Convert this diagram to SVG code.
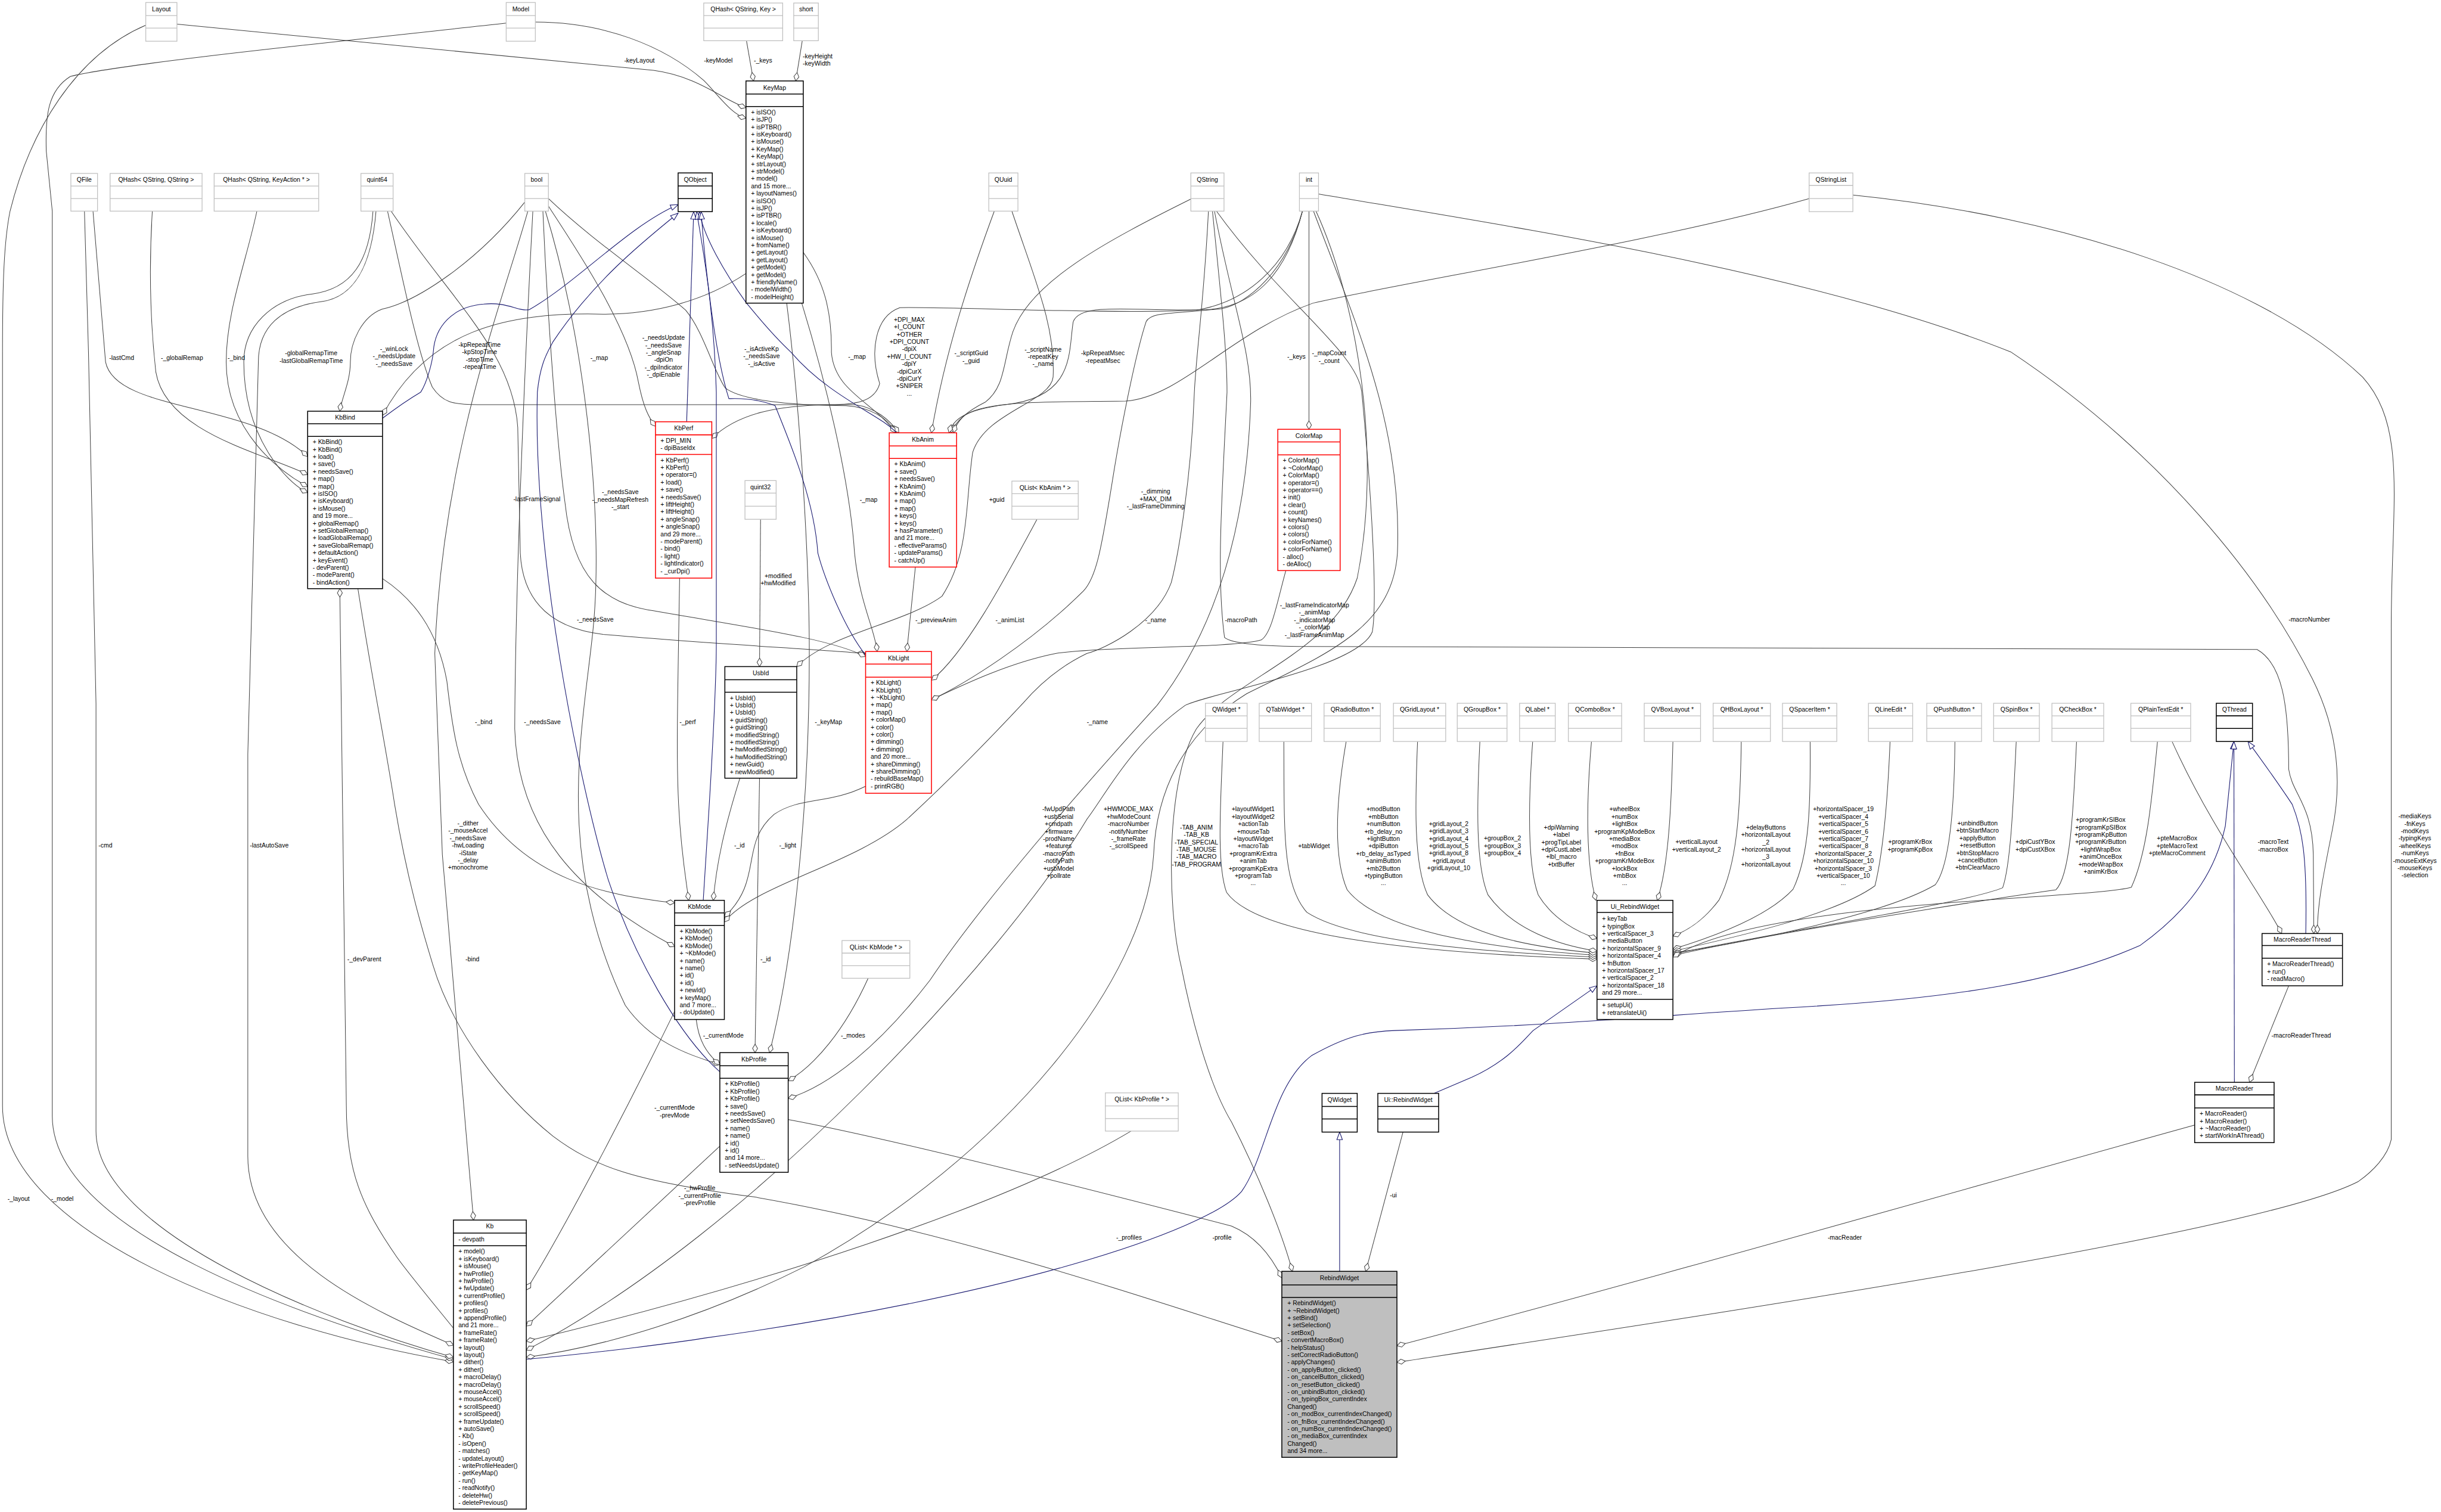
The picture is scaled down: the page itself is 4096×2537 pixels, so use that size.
<svg xmlns="http://www.w3.org/2000/svg" width="4096" height="2537" viewBox="0 0 4096 2537">
<defs>
<style>
text{font-family:"Liberation Sans",Arial,sans-serif;font-size:12.4px;fill:#000}
.m{text-anchor:middle}
.g rect{fill:#fff;stroke:#bfbfbf;stroke-width:1.5}
.g path{fill:none;stroke:#bfbfbf;stroke-width:1.5}
.k rect{fill:#fff;stroke:#000;stroke-width:1.8}
.k path{fill:none;stroke:#000;stroke-width:1.8}
.r rect{fill:#fff;stroke:#ff0000;stroke-width:1.8}
.r path{fill:none;stroke:#ff0000;stroke-width:1.8}
.f rect{fill:#bfbfbf;stroke:#000;stroke-width:1.8}
.f path{fill:none;stroke:#000;stroke-width:1.8}
.e{fill:none;stroke:#404040;stroke-width:1.2;marker-end:url(#d)}
.i{fill:none;stroke:#191970;stroke-width:1.3;marker-end:url(#t)}
</style>
<marker id="d" markerUnits="userSpaceOnUse" viewBox="-1 -6 19 12" refX="17" refY="0" markerWidth="19" markerHeight="12" orient="auto"><path d="M0,0 L8.5,-5 L17,0 L8.5,5 Z" fill="#fff" stroke="#404040" stroke-width="1.2"/></marker>
<marker id="t" markerUnits="userSpaceOnUse" viewBox="-1 -7 17 14" refX="15" refY="0" markerWidth="17" markerHeight="14" orient="auto"><path d="M0,-5.5 L15,0 L0,5.5 Z" fill="#fff" stroke="#191970" stroke-width="1.3"/></marker>
</defs>
<rect width="4096" height="2537" fill="#fff"/>
<g transform="scale(0.84349)">
<g id="connectors">
<path class="e" d="M352,48 L1300,140 C1390,152 1440,200 1484,214"/>
<path class="e" d="M1065,44 C1200,44 1320,90 1400,160 C1430,190 1455,228 1484,235"/>
<path class="e" d="M1485,81 L1499,161"/>
<path class="e" d="M1596,81 L1583,161"/>
<path class="e" d="M290,50 C150,110 60,260 20,420 C8,480 5,560 5,700 L5,2200 C5,2450 500,2640 902,2709"/>
<path class="e" d="M1007,46 C700,80 250,125 140,152 C95,180 90,230 92,300 L104,420 L104,2220 C104,2450 600,2620 902,2704"/>
<path class="e" d="M168,420 L176,700 L191,1400 L191,2250 C191,2450 650,2630 902,2700"/>
<path class="e" d="M748,420 C740,520 710,590 640,600 C560,610 514,650 514,720 L493,1500 L493,2300 C493,2500 750,2610 902,2676"/>
<path class="e" d="M185,420 C195,550 205,650 210,720 C230,820 500,800 612,908"/>
<path class="e" d="M303,420 C295,550 300,650 310,740 C330,860 520,900 612,944"/>
<path class="e" d="M511,420 C490,520 450,620 450,720 C450,860 560,940 612,968"/>
<path class="e" d="M742,420 C735,520 700,575 620,585 C540,595 485,650 485,720 C485,870 570,960 612,980"/>
<path class="e" d="M1044,402 C950,520 830,600 760,615 C720,630 697,680 697,720 C697,760 680,790 676,818"/>
<path class="e" d="M902,2642 C860,2590 810,2530 789,2500 C720,2400 689,2330 689,2200 L676,1171"/>
<path class="e" d="M712,1171 C740,1350 770,1500 785,1600 C810,1750 840,1850 861,1919 C900,2050 1000,2180 1100,2260 C1180,2320 1260,2350 1500,2381 C1900,2450 2300,2590 2550,2668"/>
<path class="e" d="M761,1151 C820,1190 870,1250 889,1355 C900,1450 910,1520 952,1600 C1050,1750 1200,1780 1342,1796"/>
<path class="e" d="M1484,544 C1400,600 1300,625 1200,625 C1000,620 850,660 761,826"/>
<path class="e" d="M1091,410 C1150,500 1250,650 1270,760 C1280,810 1290,830 1304,848"/>
<path class="e" d="M2591,420 C2560,530 2480,600 2380,617 C2200,625 1900,610 1790,612 C1740,630 1730,700 1750,763 C1740,800 1700,805 1650,805 C1550,807 1470,820 1416,872"/>
<path class="e" d="M1091,395 C1180,480 1300,560 1364,617 C1400,660 1420,740 1443,772 C1480,800 1600,807 1683,807 C1730,810 1765,830 1783,861"/>
<path class="e" d="M771,420 C800,550 830,700 860,770 C880,800 900,805 950,805 L1700,805 C1740,810 1770,835 1788,861"/>
<path class="e" d="M778,420 C900,600 1020,700 1030,850 L1035,1100 C1040,1200 1100,1250 1200,1262 C1400,1280 1600,1290 1722,1300"/>
<path class="e" d="M1080,420 C1090,650 1110,900 1124,1000 C1140,1150 1200,1200 1300,1215 C1500,1250 1650,1270 1722,1306"/>
<path class="e" d="M1050,420 C1000,600 880,900 865,1300 L880,1700 L942,2427"/>
<path class="e" d="M1060,420 C1040,800 1025,1200 1024,1450 C1030,1650 1150,1780 1342,1883"/>
<path class="e" d="M1085,420 C1170,700 1200,1050 1180,1250 C1160,1450 1100,1700 1244,2000 C1300,2080 1380,2100 1432,2118"/>
<path class="e" d="M1598,502 C1640,560 1655,620 1654,701 C1660,780 1740,800 1781,861"/>
<path class="e" d="M1595,603 C1640,750 1690,950 1700,1100 C1710,1200 1740,1250 1745,1296"/>
<path class="e" d="M1565,603 C1590,800 1610,1100 1610,1300 C1610,1600 1580,1900 1531,2094"/>
<path class="e" d="M1978,420 C1930,550 1880,700 1853,861"/>
<path class="e" d="M2013,420 C2060,560 2100,650 2095,750 C2090,800 1960,820 1935,900 C1920,1000 1930,1100 1874,1186 C1800,1240 1650,1260 1585,1326"/>
<path class="e" d="M2369,396 C2200,480 2050,560 2015,660 C1995,720 2000,770 1960,800 C1920,820 1900,840 1892,861"/>
<path class="e" d="M2591,420 C2560,540 2500,610 2400,616 C2250,620 2150,600 2135,640 C2125,700 2140,790 2000,805 C1920,815 1895,835 1888,861"/>
<path class="e" d="M3599,395 C3300,480 2800,560 2612,603 C2450,660 2350,790 2239,798 C2100,800 1950,795 1915,830 C1905,840 1900,850 1897,861"/>
<path class="e" d="M2604,420 L2604,854"/>
<path class="e" d="M2591,420 C2560,540 2480,605 2430,614 C2330,625 2290,620 2280,640 C2260,700 2230,850 2214,950 C2190,1100 2180,1150 2155,1176 C2050,1280 1920,1360 1853,1392"/>
<path class="e" d="M2558,1135 C2540,1200 2530,1260 2509,1273 C2450,1290 2200,1285 2100,1300 C2000,1320 1900,1370 1853,1392"/>
<path class="e" d="M1821,1128 L1804,1296"/>
<path class="e" d="M2063,1033 C2000,1150 1920,1300 1853,1353"/>
<path class="e" d="M1513,1033 L1511,1326"/>
<path class="e" d="M2404,420 C2395,600 2380,700 2376,780 C2370,950 2345,1100 2330,1159 C2300,1240 2200,1290 2162,1300 C2100,1330 2060,1370 2036,1398 C1950,1490 1880,1560 1804,1630 C1700,1720 1500,1760 1441,1834"/>
<path class="e" d="M2416,420 C2450,600 2490,700 2488,800 C2480,1050 2420,1250 2302,1403 C2150,1570 1950,1800 1850,1950 C1750,2080 1650,2160 1568,2185"/>
<path class="e" d="M2420,420 C2550,600 2700,700 2709,780 C2730,1000 2740,1200 2730,1257 C2700,1330 2400,1380 2358,1403 C2250,1480 2200,1580 2162,1630 C2000,1900 1500,2450 1047,2686"/>
<path class="e" d="M2412,420 C2430,600 2441,700 2441,780 C2430,1000 2420,1150 2436,1268 C2450,1280 2513,1286 2600,1286 L4490,1292 C4540,1320 4553,1400 4553,1530 C4560,1580 4600,1600 4602,1700 L4603,1857"/>
<path class="e" d="M2623,386 C3000,450 3600,540 4000,700 C4300,900 4500,1150 4600,1350 C4650,1450 4660,1550 4640,1650 C4620,1750 4610,1800 4610,1857"/>
<path class="e" d="M2618,420 C2700,600 2750,900 2700,1150 C2650,1300 2450,1350 2380,1450 C2320,1550 2320,1800 2350,1923 C2365,2000 2400,2150 2450,2232 C2500,2330 2550,2450 2571,2529"/>
<path class="e" d="M2613,420 C2700,650 2790,850 2780,1100 C2770,1250 2640,1300 2480,1380 C2350,1460 2300,1580 2295,1700 C2280,1950 2000,2300 1600,2520 C1400,2620 1200,2680 1047,2700"/>
<path class="e" d="M1472,1548 C1440,1650 1425,1720 1419,1791"/>
<path class="e" d="M1511,1548 C1508,1800 1504,1950 1502,2094"/>
<path class="e" d="M1722,1564 C1650,1600 1590,1585 1540,1620 C1470,1680 1520,1750 1441,1824"/>
<path class="e" d="M1352,1150 C1348,1400 1345,1500 1350,1600 C1355,1700 1365,1750 1370,1791"/>
<path class="e" d="M1385,2028 C1390,2070 1405,2095 1432,2118"/>
<path class="e" d="M1342,2012 C1250,2200 1120,2450 1047,2566"/>
<path class="e" d="M1432,2280 L1047,2638"/>
<path class="e" d="M1727,1946 C1680,2050 1620,2120 1568,2150"/>
<path class="e" d="M2250,2250 C2000,2400 1500,2560 1047,2668"/>
<path class="e" d="M1568,2227 C1800,2270 2300,2400 2450,2439 C2500,2460 2530,2500 2550,2542"/>
<path class="e" d="M2791,2252 L2717,2529"/>
<path class="e" d="M4366,2238 C3961,2350 3300,2540 2779,2677"/>
<path class="e" d="M3686,388 C4100,430 4500,560 4700,750 C4790,850 4757,1000 4757,1250 L4757,2267 C4750,2300 4720,2330 4692,2350 C4500,2450 3500,2600 2779,2710"/>
<path class="e" d="M4553,1961 L4475,2153"/>
<path class="e" d="M4321,1475 C4400,1650 4500,1780 4539,1857"/>
<path class="e" d="M2433,1475 C2428,1600 2420,1720 2440,1775 C2500,1860 2800,1895 3177,1908"/>
<path class="e" d="M2554,1475 C2555,1650 2550,1760 2600,1815 C2700,1880 3000,1895 3177,1904"/>
<path class="e" d="M2678,1475 C2660,1580 2650,1700 2680,1770 C2750,1860 3000,1890 3177,1900"/>
<path class="e" d="M2820,1475 C2815,1600 2812,1720 2840,1780 C2900,1860 3050,1885 3177,1896"/>
<path class="e" d="M2944,1475 C2938,1600 2935,1720 2960,1780 C3010,1850 3100,1880 3177,1892"/>
<path class="e" d="M3049,1475 C3040,1600 3038,1720 3060,1780 C3090,1830 3140,1855 3177,1867"/>
<path class="e" d="M3166,1475 C3155,1600 3155,1720 3175,1791"/>
<path class="e" d="M3328,1475 C3325,1600 3320,1720 3297,1791"/>
<path class="e" d="M3464,1475 C3462,1620 3455,1720 3420,1790 C3390,1830 3360,1850 3328,1862"/>
<path class="e" d="M3601,1475 C3602,1600 3600,1700 3567,1769 C3520,1820 3420,1860 3328,1888"/>
<path class="e" d="M3760,1475 C3755,1600 3745,1700 3730,1762 C3650,1820 3450,1865 3328,1892"/>
<path class="e" d="M3889,1475 C3888,1600 3880,1720 3850,1760 C3750,1820 3450,1880 3328,1895"/>
<path class="e" d="M4011,1475 C4005,1600 4000,1720 3984,1766 C3900,1800 3500,1860 3328,1898"/>
<path class="e" d="M4131,1475 C4125,1600 4120,1740 4090,1770 C3950,1790 3500,1860 3328,1901"/>
<path class="e" d="M4292,1475 C4280,1600 4270,1700 4240,1765 C4150,1790 3500,1790 3328,1904"/>
<path class="i" d="M761,832 C790,810 820,790 837,780 C850,760 860,720 862,700 C865,650 900,610 962,605 C1010,600 1030,620 1053,616 C1150,560 1250,450 1349,407"/>
<path class="i" d="M1432,2132 C1350,2060 1260,1900 1210,1750 C1150,1550 1060,1100 1069,780 C1075,720 1090,700 1100,680 C1180,560 1280,480 1349,424"/>
<path class="i" d="M1366,839 L1380,421"/>
<path class="i" d="M1399,1791 L1411,1600 C1420,1450 1425,1350 1425,1280 L1425,780 C1420,600 1395,480 1386,421"/>
<path class="i" d="M1783,861 C1760,830 1650,790 1574,701 C1530,660 1500,620 1485,603 C1440,540 1400,470 1391,421"/>
<path class="i" d="M1722,1303 C1680,1250 1640,1150 1627,1100 C1620,1000 1580,900 1542,807 C1500,790 1460,793 1450,793 C1420,700 1400,500 1395,421"/>
<path class="i" d="M1047,2704 C1200,2690 1350,2670 1400,2662 C2000,2580 2400,2450 2470,2370 C2520,2300 2530,2160 2609,2100 C2680,2060 2720,2052 2775,2050 C3100,2040 3300,2020 3550,2005 C3900,1987 4100,1950 4257,1881 C4370,1800 4410,1720 4427,1643 L4444,1475"/>
<path class="i" d="M4445,2153 L4444,1475"/>
<path class="i" d="M4587,1857 C4590,1700 4580,1650 4560,1600 C4520,1540 4490,1500 4472,1475"/>
<path class="i" d="M2665,2529 L2665,2252"/>
<path class="i" d="M2853,2175 L2928,2143 C3000,2110 3030,2070 3050,2050 L3177,1961"/>
<text class="m" x="1272" y="125">-keyLayout</text>
<text class="m" x="1429" y="125">-keyModel</text>
<text class="m" x="1518" y="125">-_keys</text>
<text x="1597" y="116">-keyHeight<tspan x="1597" dy="15">-keyWidth</tspan></text>
<text class="m" x="37" y="2389">-_layout</text>
<text class="m" x="124" y="2389">-_model</text>
<text class="m" x="242" y="716">-lastCmd</text>
<text class="m" x="362" y="716">-_globalRemap</text>
<text class="m" x="470" y="716">-_bind</text>
<text class="m" x="619" y="707">-globalRemapTime<tspan class="m" x="619" dy="15">-lastGlobalRemapTime</tspan></text>
<text class="m" x="784" y="698">-_winLock<tspan x="784" dy="14.7">-_needsUpdate</tspan><tspan x="784" dy="14.7">-_needsSave</tspan></text>
<text class="m" x="954" y="690">-kpRepeatTime<tspan x="954" dy="14.7">-kpStopTime</tspan><tspan x="954" dy="14.7">-stopTime</tspan><tspan x="954" dy="14.7">-repeatTime</tspan></text>
<text class="m" x="1192" y="716">-_map</text>
<text class="m" x="1320" y="676">-_needsUpdate<tspan x="1320" dy="14.7">-_needsSave</tspan><tspan x="1320" dy="14.7">-_angleSnap</tspan><tspan x="1320" dy="14.7">-dpiOn</tspan><tspan x="1320" dy="14.7">-_dpiIndicator</tspan><tspan x="1320" dy="14.7">-_dpiEnable</tspan></text>
<text class="m" x="1515" y="698">-_isActiveKp<tspan x="1515" dy="14.7">-_needsSave</tspan><tspan x="1515" dy="14.7">-_isActive</tspan></text>
<text class="m" x="1705" y="714">-_map</text>
<text class="m" x="1809" y="640">+DPI_MAX<tspan x="1809" dy="14.7">+I_COUNT</tspan><tspan x="1809" dy="14.7">+OTHER</tspan><tspan x="1809" dy="14.7">+DPI_COUNT</tspan><tspan x="1809" dy="14.7">-dpiX</tspan><tspan x="1809" dy="14.7">+HW_I_COUNT</tspan><tspan x="1809" dy="14.7">-dpiY</tspan><tspan x="1809" dy="14.7">-dpiCurX</tspan><tspan x="1809" dy="14.7">-dpiCurY</tspan><tspan x="1809" dy="14.7">+SNIPER</tspan><tspan x="1809" dy="14.7">...</tspan></text>
<text class="m" x="1932" y="707">-_scriptGuid<tspan x="1932" dy="14.7">-_guid</tspan></text>
<text class="m" x="2075" y="699">-_scriptName<tspan x="2075" dy="14.7">-repeatKey</tspan><tspan x="2075" dy="14.7">-_name</tspan></text>
<text class="m" x="2194" y="707">-kpRepeatMsec<tspan x="2194" dy="14.7">-repeatMsec</tspan></text>
<text class="m" x="2579" y="714">-_keys</text>
<text class="m" x="2644" y="707">-_mapCount<tspan x="2644" dy="14.7">-_count</tspan></text>
<text class="m" x="1728" y="998">-_map</text>
<text class="m" x="1068" y="997">-lastFrameSignal</text>
<text class="m" x="1234" y="983">-_needsSave<tspan x="1234" dy="14.7">-_needsMapRefresh</tspan><tspan x="1234" dy="14.7">-_start</tspan></text>
<text class="m" x="1983" y="998">+guid</text>
<text class="m" x="2299" y="982">-_dimming<tspan x="2299" dy="14.7">+MAX_DIM</tspan><tspan x="2299" dy="14.7">-_lastFrameDimming</tspan></text>
<text class="m" x="1548" y="1150">+modified<tspan x="1548" dy="14.7">+hwModified</tspan></text>
<text class="m" x="1184" y="1237">-_needsSave</text>
<text class="m" x="1862" y="1238">-_previewAnim</text>
<text class="m" x="2009" y="1238">-_animList</text>
<text class="m" x="2299" y="1238">-_name</text>
<text class="m" x="2469" y="1238">-macroPath</text>
<text class="m" x="2615" y="1208">-_lastFrameIndicatorMap<tspan x="2615" dy="14.7">-_animMap</tspan><tspan x="2615" dy="14.7">-_indicatorMap</tspan><tspan x="2615" dy="14.7">-_colorMap</tspan><tspan x="2615" dy="14.7">-_lastFrameAnimMap</tspan></text>
<text class="m" x="962" y="1440">-_bind</text>
<text class="m" x="1079" y="1440">-_needsSave</text>
<text class="m" x="1368" y="1440">-_perf</text>
<text class="m" x="1648" y="1440">-_keyMap</text>
<text class="m" x="2183" y="1440">-_name</text>
<text class="m" x="1471" y="1686">-_id</text>
<text class="m" x="1567" y="1686">-_light</text>
<text x="196" y="1686">-cmd</text>
<text x="497" y="1686">-lastAutoSave</text>
<text class="m" x="931" y="1642">-_dither<tspan x="931" dy="14.7">-_mouseAccel</tspan><tspan x="931" dy="14.7">-_needsSave</tspan><tspan x="931" dy="14.7">-hwLoading</tspan><tspan x="931" dy="14.7">-iState</tspan><tspan x="931" dy="14.7">-_delay</tspan><tspan x="931" dy="14.7">+monochrome</tspan></text>
<text x="691" y="1912">-_devParent</text>
<text x="926" y="1912">-bind</text>
<text class="m" x="1523" y="1912">-_id</text>
<text class="m" x="1439" y="2064">-_currentMode</text>
<text class="m" x="1697" y="2064">-_modes</text>
<text class="m" x="1342" y="2208">-_currentMode<tspan x="1342" dy="14.7">-prevMode</tspan></text>
<text class="m" x="1392" y="2368">-_hwProfile<tspan x="1392" dy="14.7">-_currentProfile</tspan><tspan x="1392" dy="14.7">-prevProfile</tspan></text>
<text class="m" x="2106" y="1614">-fwUpdPath<tspan x="2106" dy="14.7">+usbSerial</tspan><tspan x="2106" dy="14.7">+cmdpath</tspan><tspan x="2106" dy="14.7">+firmware</tspan><tspan x="2106" dy="14.7">-prodName</tspan><tspan x="2106" dy="14.7">+features</tspan><tspan x="2106" dy="14.7">-macroPath</tspan><tspan x="2106" dy="14.7">-notifyPath</tspan><tspan x="2106" dy="14.7">+usbModel</tspan><tspan x="2106" dy="14.7">+pollrate</tspan></text>
<text class="m" x="2245" y="1614">+HWMODE_MAX<tspan x="2245" dy="14.7">+hwModeCount</tspan><tspan x="2245" dy="14.7">-macroNumber</tspan><tspan x="2245" dy="14.7">-notifyNumber</tspan><tspan x="2245" dy="14.7">-_frameRate</tspan><tspan x="2245" dy="14.7">-_scrollSpeed</tspan></text>
<text class="m" x="2380" y="1650">-TAB_ANIM<tspan x="2380" dy="14.7">-TAB_KB</tspan><tspan x="2380" dy="14.7">-TAB_SPECIAL</tspan><tspan x="2380" dy="14.7">-TAB_MOUSE</tspan><tspan x="2380" dy="14.7">-TAB_MACRO</tspan><tspan x="2380" dy="14.7">-TAB_PROGRAM</tspan></text>
<text class="m" x="2493" y="1614">+layoutWidget1<tspan x="2493" dy="14.7">+layoutWidget2</tspan><tspan x="2493" dy="14.7">+actionTab</tspan><tspan x="2493" dy="14.7">+mouseTab</tspan><tspan x="2493" dy="14.7">+layoutWidget</tspan><tspan x="2493" dy="14.7">+macroTab</tspan><tspan x="2493" dy="14.7">+programKrExtra</tspan><tspan x="2493" dy="14.7">+animTab</tspan><tspan x="2493" dy="14.7">+programKpExtra</tspan><tspan x="2493" dy="14.7">+programTab</tspan><tspan x="2493" dy="14.7">...</tspan></text>
<text class="m" x="2614" y="1687">+tabWidget</text>
<text class="m" x="2752" y="1614">+modButton<tspan x="2752" dy="14.7">+mbButton</tspan><tspan x="2752" dy="14.7">+numButton</tspan><tspan x="2752" dy="14.7">+rb_delay_no</tspan><tspan x="2752" dy="14.7">+lightButton</tspan><tspan x="2752" dy="14.7">+dpiButton</tspan><tspan x="2752" dy="14.7">+rb_delay_asTyped</tspan><tspan x="2752" dy="14.7">+animButton</tspan><tspan x="2752" dy="14.7">+mb2Button</tspan><tspan x="2752" dy="14.7">+typingButton</tspan><tspan x="2752" dy="14.7">...</tspan></text>
<text class="m" x="2882" y="1643">+gridLayout_2<tspan x="2882" dy="14.7">+gridLayout_3</tspan><tspan x="2882" dy="14.7">+gridLayout_4</tspan><tspan x="2882" dy="14.7">+gridLayout_5</tspan><tspan x="2882" dy="14.7">+gridLayout_8</tspan><tspan x="2882" dy="14.7">+gridLayout</tspan><tspan x="2882" dy="14.7">+gridLayout_10</tspan></text>
<text class="m" x="2989" y="1672">+groupBox_2<tspan x="2989" dy="14.7">+groupBox_3</tspan><tspan x="2989" dy="14.7">+groupBox_4</tspan></text>
<text class="m" x="3106" y="1650">+dpiWarning<tspan x="3106" dy="14.7">+label</tspan><tspan x="3106" dy="14.7">+progTipLabel</tspan><tspan x="3106" dy="14.7">+dpiCustLabel</tspan><tspan x="3106" dy="14.7">+lbl_macro</tspan><tspan x="3106" dy="14.7">+txtBuffer</tspan></text>
<text class="m" x="3232" y="1614">+wheelBox<tspan x="3232" dy="14.7">+numBox</tspan><tspan x="3232" dy="14.7">+lightBox</tspan><tspan x="3232" dy="14.7">+programKpModeBox</tspan><tspan x="3232" dy="14.7">+mediaBox</tspan><tspan x="3232" dy="14.7">+modBox</tspan><tspan x="3232" dy="14.7">+fnBox</tspan><tspan x="3232" dy="14.7">+programKrModeBox</tspan><tspan x="3232" dy="14.7">+lockBox</tspan><tspan x="3232" dy="14.7">+mbBox</tspan><tspan x="3232" dy="14.7">...</tspan></text>
<text class="m" x="3375" y="1679">+verticalLayout<tspan x="3375" dy="14.7">+verticalLayout_2</tspan></text>
<text class="m" x="3513" y="1650">+delayButtons<tspan x="3513" dy="14.7">+horizontalLayout</tspan><tspan x="3513" dy="14.7">_2</tspan><tspan x="3513" dy="14.7">+horizontalLayout</tspan><tspan x="3513" dy="14.7">_3</tspan><tspan x="3513" dy="14.7">+horizontalLayout</tspan></text>
<text class="m" x="3667" y="1614">+horizontalSpacer_19<tspan x="3667" dy="14.7">+verticalSpacer_4</tspan><tspan x="3667" dy="14.7">+verticalSpacer_5</tspan><tspan x="3667" dy="14.7">+verticalSpacer_6</tspan><tspan x="3667" dy="14.7">+verticalSpacer_7</tspan><tspan x="3667" dy="14.7">+verticalSpacer_8</tspan><tspan x="3667" dy="14.7">+horizontalSpacer_2</tspan><tspan x="3667" dy="14.7">+horizontalSpacer_10</tspan><tspan x="3667" dy="14.7">+horizontalSpacer_3</tspan><tspan x="3667" dy="14.7">+verticalSpacer_10</tspan><tspan x="3667" dy="14.7">...</tspan></text>
<text class="m" x="3800" y="1679">+programKrBox<tspan x="3800" dy="14.7">+programKpBox</tspan></text>
<text class="m" x="3934" y="1642">+unbindButton<tspan x="3934" dy="14.7">+btnStartMacro</tspan><tspan x="3934" dy="14.7">+applyButton</tspan><tspan x="3934" dy="14.7">+resetButton</tspan><tspan x="3934" dy="14.7">+btnStopMacro</tspan><tspan x="3934" dy="14.7">+cancelButton</tspan><tspan x="3934" dy="14.7">+btnClearMacro</tspan></text>
<text class="m" x="4049" y="1679">+dpiCustYBox<tspan x="4049" dy="14.7">+dpiCustXBox</tspan></text>
<text class="m" x="4179" y="1635">+programKrSIBox<tspan x="4179" dy="14.7">+programKpSIBox</tspan><tspan x="4179" dy="14.7">+programKpButton</tspan><tspan x="4179" dy="14.7">+programKrButton</tspan><tspan x="4179" dy="14.7">+lightWrapBox</tspan><tspan x="4179" dy="14.7">+animOnceBox</tspan><tspan x="4179" dy="14.7">+modeWrapBox</tspan><tspan x="4179" dy="14.7">+animKrBox</tspan></text>
<text class="m" x="4331" y="1672">+pteMacroBox<tspan x="4331" dy="14.7">+pteMacroText</tspan><tspan x="4331" dy="14.7">+pteMacroComment</tspan></text>
<text class="m" x="4522" y="1679">-macroText<tspan x="4522" dy="14.7">-macroBox</tspan></text>
<text class="m" x="4594" y="1237">-macroNumber</text>
<text class="m" x="4804" y="1628">-mediaKeys<tspan x="4804" dy="14.7">-fnKeys</tspan><tspan x="4804" dy="14.7">-modKeys</tspan><tspan x="4804" dy="14.7">-typingKeys</tspan><tspan x="4804" dy="14.7">-wheelKeys</tspan><tspan x="4804" dy="14.7">-numKeys</tspan><tspan x="4804" dy="14.7">-mouseExtKeys</tspan><tspan x="4804" dy="14.7">-mouseKeys</tspan><tspan x="4804" dy="14.7">-selection</tspan></text>
<text class="m" x="4578" y="2064">-macroReaderThread</text>
<text class="m" x="2246" y="2466">-_profiles</text>
<text class="m" x="2431" y="2466">-profile</text>
<text class="m" x="3670" y="2466">-macReader</text>
<text class="m" x="2772" y="2382">-ui</text>
</g>
<g id="Layout" class="g"><rect x="290" y="5" width="62" height="77"/><path d="M290,31H352M290,56H352"/><text class="m" x="321" y="22.5">Layout</text></g>
<g id="Model" class="g"><rect x="1007" y="5" width="58" height="77"/><path d="M1007,31H1065M1007,56H1065"/><text class="m" x="1036" y="22.5">Model</text></g>
<g id="QHashKey" class="g"><rect x="1400" y="6" width="157" height="75"/><path d="M1400,31H1557M1400,56H1557"/><text class="m" x="1478.5" y="23">QHash&lt; QString, Key &gt;</text></g>
<g id="short" class="g"><rect x="1579" y="6" width="49" height="75"/><path d="M1579,31H1628M1579,56H1628"/><text class="m" x="1603.5" y="23">short</text></g>
<g id="KeyMap" class="k"><rect x="1484" y="161" width="114" height="442"/><path d="M1484,187H1598M1484,212H1598"/><text class="m" x="1541" y="178.5">KeyMap</text>
<text x="1494" y="227.5"><tspan x="1494" dy="0">+ isISO()</tspan><tspan x="1494" dy="14.7">+ isJP()</tspan><tspan x="1494" dy="14.7">+ isPTBR()</tspan><tspan x="1494" dy="14.7">+ isKeyboard()</tspan><tspan x="1494" dy="14.7">+ isMouse()</tspan><tspan x="1494" dy="14.7">+ KeyMap()</tspan><tspan x="1494" dy="14.7">+ KeyMap()</tspan><tspan x="1494" dy="14.7">+ strLayout()</tspan><tspan x="1494" dy="14.7">+ strModel()</tspan><tspan x="1494" dy="14.7">+ model()</tspan><tspan x="1494" dy="14.7">and 15 more...</tspan><tspan x="1494" dy="14.7">+ layoutNames()</tspan><tspan x="1494" dy="14.7">+ isISO()</tspan><tspan x="1494" dy="14.7">+ isJP()</tspan><tspan x="1494" dy="14.7">+ isPTBR()</tspan><tspan x="1494" dy="14.7">+ locale()</tspan><tspan x="1494" dy="14.7">+ isKeyboard()</tspan><tspan x="1494" dy="14.7">+ isMouse()</tspan><tspan x="1494" dy="14.7">+ fromName()</tspan><tspan x="1494" dy="14.7">+ getLayout()</tspan><tspan x="1494" dy="14.7">+ getLayout()</tspan><tspan x="1494" dy="14.7">+ getModel()</tspan><tspan x="1494" dy="14.7">+ getModel()</tspan><tspan x="1494" dy="14.7">+ friendlyName()</tspan><tspan x="1494" dy="14.7">- modelWidth()</tspan><tspan x="1494" dy="14.7">- modelHeight()</tspan></text></g>
<g id="QFile" class="g"><rect x="141" y="345" width="53" height="75"/><path d="M141,370H194M141,395H194"/><text class="m" x="167.5" y="362">QFile</text></g>
<g id="QHashSS" class="g"><rect x="219" y="345" width="183" height="75"/><path d="M219,370H402M219,395H402"/><text class="m" x="310.5" y="362">QHash&lt; QString, QString &gt;</text></g>
<g id="QHashSKA" class="g"><rect x="426" y="345" width="208" height="75"/><path d="M426,370H634M426,395H634"/><text class="m" x="530" y="362">QHash&lt; QString, KeyAction * &gt;</text></g>
<g id="quint64" class="g"><rect x="718" y="345" width="64" height="75"/><path d="M718,370H782M718,395H782"/><text class="m" x="750" y="362">quint64</text></g>
<g id="bool" class="g"><rect x="1044" y="345" width="47" height="75"/><path d="M1044,370H1091M1044,395H1091"/><text class="m" x="1067.5" y="362">bool</text></g>
<g id="QObject" class="k"><rect x="1349" y="344" width="68" height="77"/><path d="M1349,370H1417M1349,395H1417"/><text class="m" x="1383" y="361.5">QObject</text></g>
<g id="QUuid" class="g"><rect x="1967" y="344" width="58" height="76"/><path d="M1967,370H2025M1967,395H2025"/><text class="m" x="1996" y="361.5">QUuid</text></g>
<g id="QString" class="g"><rect x="2369" y="344" width="66" height="76"/><path d="M2369,370H2435M2369,395H2435"/><text class="m" x="2402" y="361.5">QString</text></g>
<g id="int" class="g"><rect x="2585" y="344" width="38" height="76"/><path d="M2585,370H2623M2585,395H2623"/><text class="m" x="2604" y="361.5">int</text></g>
<g id="QStringList" class="g"><rect x="3599" y="344" width="87" height="77"/><path d="M3599,369H3686M3599,395H3686"/><text class="m" x="3642.5" y="361.5">QStringList</text></g>
<g id="KbBind" class="k"><rect x="612" y="818" width="149" height="353"/><path d="M612,843H761M612,868H761"/><text class="m" x="686.5" y="835">KbBind</text>
<text x="622" y="883.5"><tspan x="622" dy="0">+ KbBind()</tspan><tspan x="622" dy="14.7">+ KbBind()</tspan><tspan x="622" dy="14.7">+ load()</tspan><tspan x="622" dy="14.7">+ save()</tspan><tspan x="622" dy="14.7">+ needsSave()</tspan><tspan x="622" dy="14.7">+ map()</tspan><tspan x="622" dy="14.7">+ map()</tspan><tspan x="622" dy="14.7">+ isISO()</tspan><tspan x="622" dy="14.7">+ isKeyboard()</tspan><tspan x="622" dy="14.7">+ isMouse()</tspan><tspan x="622" dy="14.7">and 19 more...</tspan><tspan x="622" dy="14.7">+ globalRemap()</tspan><tspan x="622" dy="14.7">+ setGlobalRemap()</tspan><tspan x="622" dy="14.7">+ loadGlobalRemap()</tspan><tspan x="622" dy="14.7">+ saveGlobalRemap()</tspan><tspan x="622" dy="14.7">+ defaultAction()</tspan><tspan x="622" dy="14.7">+ keyEvent()</tspan><tspan x="622" dy="14.7">- devParent()</tspan><tspan x="622" dy="14.7">- modeParent()</tspan><tspan x="622" dy="14.7">- bindAction()</tspan></text></g>
<g id="KbPerf" class="r"><rect x="1304" y="839" width="112" height="311"/><path d="M1304,865H1416M1304,904H1416"/><text class="m" x="1360" y="856.5">KbPerf</text>
<text x="1314" y="880.5"><tspan x="1314" dy="0">+ DPI_MIN</tspan><tspan x="1314" dy="14.7">- dpiBaseIdx</tspan></text>
<text x="1314" y="919.5"><tspan x="1314" dy="0">+ KbPerf()</tspan><tspan x="1314" dy="14.7">+ KbPerf()</tspan><tspan x="1314" dy="14.7">+ operator=()</tspan><tspan x="1314" dy="14.7">+ load()</tspan><tspan x="1314" dy="14.7">+ save()</tspan><tspan x="1314" dy="14.7">+ needsSave()</tspan><tspan x="1314" dy="14.7">+ liftHeight()</tspan><tspan x="1314" dy="14.7">+ liftHeight()</tspan><tspan x="1314" dy="14.7">+ angleSnap()</tspan><tspan x="1314" dy="14.7">+ angleSnap()</tspan><tspan x="1314" dy="14.7">and 29 more...</tspan><tspan x="1314" dy="14.7">- modeParent()</tspan><tspan x="1314" dy="14.7">- bind()</tspan><tspan x="1314" dy="14.7">- light()</tspan><tspan x="1314" dy="14.7">- lightIndicator()</tspan><tspan x="1314" dy="14.7">- _curDpi()</tspan></text></g>
<g id="KbAnim" class="r"><rect x="1769" y="861" width="134" height="267"/><path d="M1769,887H1903M1769,912H1903"/><text class="m" x="1836" y="878.5">KbAnim</text>
<text x="1779" y="927.5"><tspan x="1779" dy="0">+ KbAnim()</tspan><tspan x="1779" dy="14.7">+ save()</tspan><tspan x="1779" dy="14.7">+ needsSave()</tspan><tspan x="1779" dy="14.7">+ KbAnim()</tspan><tspan x="1779" dy="14.7">+ KbAnim()</tspan><tspan x="1779" dy="14.7">+ map()</tspan><tspan x="1779" dy="14.7">+ map()</tspan><tspan x="1779" dy="14.7">+ keys()</tspan><tspan x="1779" dy="14.7">+ keys()</tspan><tspan x="1779" dy="14.7">+ hasParameter()</tspan><tspan x="1779" dy="14.7">and 21 more...</tspan><tspan x="1779" dy="14.7">- effectiveParams()</tspan><tspan x="1779" dy="14.7">- updateParams()</tspan><tspan x="1779" dy="14.7">- catchUp()</tspan></text></g>
<g id="ColorMap" class="r"><rect x="2542" y="854" width="124" height="281"/><path d="M2542,879H2666M2542,905H2666"/><text class="m" x="2604" y="871">ColorMap</text>
<text x="2552" y="920.5"><tspan x="2552" dy="0">+ ColorMap()</tspan><tspan x="2552" dy="14.7">+ ~ColorMap()</tspan><tspan x="2552" dy="14.7">+ ColorMap()</tspan><tspan x="2552" dy="14.7">+ operator=()</tspan><tspan x="2552" dy="14.7">+ operator==()</tspan><tspan x="2552" dy="14.7">+ init()</tspan><tspan x="2552" dy="14.7">+ clear()</tspan><tspan x="2552" dy="14.7">+ count()</tspan><tspan x="2552" dy="14.7">+ keyNames()</tspan><tspan x="2552" dy="14.7">+ colors()</tspan><tspan x="2552" dy="14.7">+ colors()</tspan><tspan x="2552" dy="14.7">+ colorForName()</tspan><tspan x="2552" dy="14.7">+ colorForName()</tspan><tspan x="2552" dy="14.7">- alloc()</tspan><tspan x="2552" dy="14.7">- deAlloc()</tspan></text></g>
<g id="quint32" class="g"><rect x="1482" y="956" width="62" height="77"/><path d="M1482,981H1544M1482,1007H1544"/><text class="m" x="1513" y="973">quint32</text></g>
<g id="QListKbAnim" class="g"><rect x="2013" y="957" width="132" height="76"/><path d="M2013,982H2145M2013,1007H2145"/><text class="m" x="2079" y="974">QList&lt; KbAnim * &gt;</text></g>
<g id="KbLight" class="r"><rect x="1722" y="1296" width="131" height="282"/><path d="M1722,1321H1853M1722,1347H1853"/><text class="m" x="1787.5" y="1313">KbLight</text>
<text x="1732" y="1362.5"><tspan x="1732" dy="0">+ KbLight()</tspan><tspan x="1732" dy="14.7">+ KbLight()</tspan><tspan x="1732" dy="14.7">+ ~KbLight()</tspan><tspan x="1732" dy="14.7">+ map()</tspan><tspan x="1732" dy="14.7">+ map()</tspan><tspan x="1732" dy="14.7">+ colorMap()</tspan><tspan x="1732" dy="14.7">+ color()</tspan><tspan x="1732" dy="14.7">+ color()</tspan><tspan x="1732" dy="14.7">+ dimming()</tspan><tspan x="1732" dy="14.7">+ dimming()</tspan><tspan x="1732" dy="14.7">and 20 more...</tspan><tspan x="1732" dy="14.7">+ shareDimming()</tspan><tspan x="1732" dy="14.7">+ shareDimming()</tspan><tspan x="1732" dy="14.7">- rebuildBaseMap()</tspan><tspan x="1732" dy="14.7">- printRGB()</tspan></text></g>
<g id="UsbId" class="k"><rect x="1442" y="1326" width="143" height="222"/><path d="M1442,1352H1585M1442,1377H1585"/><text class="m" x="1513.5" y="1343">UsbId</text>
<text x="1452" y="1392.5"><tspan x="1452" dy="0">+ UsbId()</tspan><tspan x="1452" dy="14.7">+ UsbId()</tspan><tspan x="1452" dy="14.7">+ UsbId()</tspan><tspan x="1452" dy="14.7">+ guidString()</tspan><tspan x="1452" dy="14.7">+ guidString()</tspan><tspan x="1452" dy="14.7">+ modifiedString()</tspan><tspan x="1452" dy="14.7">+ modifiedString()</tspan><tspan x="1452" dy="14.7">+ hwModifiedString()</tspan><tspan x="1452" dy="14.7">+ hwModifiedString()</tspan><tspan x="1452" dy="14.7">+ newGuid()</tspan><tspan x="1452" dy="14.7">+ newModified()</tspan></text></g>
<g id="KbMode" class="k"><rect x="1342" y="1791" width="99" height="237"/><path d="M1342,1816H1441M1342,1841H1441"/><text class="m" x="1391.5" y="1808">KbMode</text>
<text x="1352" y="1856.5"><tspan x="1352" dy="0">+ KbMode()</tspan><tspan x="1352" dy="14.7">+ KbMode()</tspan><tspan x="1352" dy="14.7">+ KbMode()</tspan><tspan x="1352" dy="14.7">+ ~KbMode()</tspan><tspan x="1352" dy="14.7">+ name()</tspan><tspan x="1352" dy="14.7">+ name()</tspan><tspan x="1352" dy="14.7">+ id()</tspan><tspan x="1352" dy="14.7">+ id()</tspan><tspan x="1352" dy="14.7">+ newId()</tspan><tspan x="1352" dy="14.7">+ keyMap()</tspan><tspan x="1352" dy="14.7">and 7 more...</tspan><tspan x="1352" dy="14.7">- doUpdate()</tspan></text></g>
<g id="QListKbMode" class="g"><rect x="1675" y="1871" width="135" height="75"/><path d="M1675,1896H1810M1675,1921H1810"/><text class="m" x="1742.5" y="1888">QList&lt; KbMode * &gt;</text></g>
<g id="KbProfile" class="k"><rect x="1432" y="2094" width="136" height="238"/><path d="M1432,2120H1568M1432,2145H1568"/><text class="m" x="1500" y="2111">KbProfile</text>
<text x="1442" y="2160.5"><tspan x="1442" dy="0">+ KbProfile()</tspan><tspan x="1442" dy="14.7">+ KbProfile()</tspan><tspan x="1442" dy="14.7">+ KbProfile()</tspan><tspan x="1442" dy="14.7">+ save()</tspan><tspan x="1442" dy="14.7">+ needsSave()</tspan><tspan x="1442" dy="14.7">+ setNeedsSave()</tspan><tspan x="1442" dy="14.7">+ name()</tspan><tspan x="1442" dy="14.7">+ name()</tspan><tspan x="1442" dy="14.7">+ id()</tspan><tspan x="1442" dy="14.7">+ id()</tspan><tspan x="1442" dy="14.7">and 14 more...</tspan><tspan x="1442" dy="14.7">- setNeedsUpdate()</tspan></text></g>
<g id="QListKbProfile" class="g"><rect x="2199" y="2174" width="145" height="76"/><path d="M2199,2200H2344M2199,2225H2344"/><text class="m" x="2271.5" y="2191">QList&lt; KbProfile * &gt;</text></g>
<g id="Kb" class="k"><rect x="902" y="2427" width="145" height="575"/><path d="M902,2453H1047M902,2478H1047"/><text class="m" x="974.5" y="2444">Kb</text>
<text x="912" y="2469">- devpath</text>
<text x="912" y="2493.8"><tspan x="912" dy="0">+ model()</tspan><tspan x="912" dy="14.7">+ isKeyboard()</tspan><tspan x="912" dy="14.7">+ isMouse()</tspan><tspan x="912" dy="14.7">+ hwProfile()</tspan><tspan x="912" dy="14.7">+ hwProfile()</tspan><tspan x="912" dy="14.7">+ fwUpdate()</tspan><tspan x="912" dy="14.7">+ currentProfile()</tspan><tspan x="912" dy="14.7">+ profiles()</tspan><tspan x="912" dy="14.7">+ profiles()</tspan><tspan x="912" dy="14.7">+ appendProfile()</tspan><tspan x="912" dy="14.7">and 21 more...</tspan><tspan x="912" dy="14.7">+ frameRate()</tspan><tspan x="912" dy="14.7">+ frameRate()</tspan><tspan x="912" dy="14.7">+ layout()</tspan><tspan x="912" dy="14.7">+ layout()</tspan><tspan x="912" dy="14.7">+ dither()</tspan><tspan x="912" dy="14.7">+ dither()</tspan><tspan x="912" dy="14.7">+ macroDelay()</tspan><tspan x="912" dy="14.7">+ macroDelay()</tspan><tspan x="912" dy="14.7">+ mouseAccel()</tspan><tspan x="912" dy="14.7">+ mouseAccel()</tspan><tspan x="912" dy="14.7">+ scrollSpeed()</tspan><tspan x="912" dy="14.7">+ scrollSpeed()</tspan><tspan x="912" dy="14.7">+ frameUpdate()</tspan><tspan x="912" dy="14.7">+ autoSave()</tspan><tspan x="912" dy="14.7">- Kb()</tspan><tspan x="912" dy="14.7">- isOpen()</tspan><tspan x="912" dy="14.7">- matches()</tspan><tspan x="912" dy="14.7">- updateLayout()</tspan><tspan x="912" dy="14.7">- writeProfileHeader()</tspan><tspan x="912" dy="14.7">- getKeyMap()</tspan><tspan x="912" dy="14.7">- run()</tspan><tspan x="912" dy="14.7">- readNotify()</tspan><tspan x="912" dy="14.7">- deleteHw()</tspan><tspan x="912" dy="14.7">- deletePrevious()</tspan></text></g>
<g id="QWidgetPtr" class="g"><rect x="2398" y="1399" width="83" height="76"/><path d="M2398,1424H2481M2398,1449H2481"/><text class="m" x="2439.5" y="1416">QWidget *</text></g>
<g id="QTabWidgetPtr" class="g"><rect x="2505" y="1399" width="104" height="76"/><path d="M2505,1424H2609M2505,1449H2609"/><text class="m" x="2557" y="1416">QTabWidget *</text></g>
<g id="QRadioButtonPtr" class="g"><rect x="2634" y="1399" width="112" height="76"/><path d="M2634,1424H2746M2634,1449H2746"/><text class="m" x="2690" y="1416">QRadioButton *</text></g>
<g id="QGridLayoutPtr" class="g"><rect x="2772" y="1399" width="104" height="76"/><path d="M2772,1424H2876M2772,1449H2876"/><text class="m" x="2824" y="1416">QGridLayout *</text></g>
<g id="QGroupBoxPtr" class="g"><rect x="2899" y="1399" width="99" height="76"/><path d="M2899,1424H2998M2899,1449H2998"/><text class="m" x="2948.5" y="1416">QGroupBox *</text></g>
<g id="QLabelPtr" class="g"><rect x="3023" y="1399" width="71" height="76"/><path d="M3023,1424H3094M3023,1449H3094"/><text class="m" x="3058.5" y="1416">QLabel *</text></g>
<g id="QComboBoxPtr" class="g"><rect x="3120" y="1399" width="106" height="76"/><path d="M3120,1424H3226M3120,1449H3226"/><text class="m" x="3173" y="1416">QComboBox *</text></g>
<g id="QVBoxLayoutPtr" class="g"><rect x="3271" y="1399" width="112" height="76"/><path d="M3271,1424H3383M3271,1449H3383"/><text class="m" x="3327" y="1416">QVBoxLayout *</text></g>
<g id="QHBoxLayoutPtr" class="g"><rect x="3408" y="1399" width="114" height="76"/><path d="M3408,1424H3522M3408,1449H3522"/><text class="m" x="3465" y="1416">QHBoxLayout *</text></g>
<g id="QSpacerItemPtr" class="g"><rect x="3546" y="1399" width="108" height="76"/><path d="M3546,1424H3654M3546,1449H3654"/><text class="m" x="3600" y="1416">QSpacerItem *</text></g>
<g id="QLineEditPtr" class="g"><rect x="3717" y="1399" width="88" height="76"/><path d="M3717,1424H3805M3717,1449H3805"/><text class="m" x="3761" y="1416">QLineEdit *</text></g>
<g id="QPushButtonPtr" class="g"><rect x="3833" y="1399" width="109" height="76"/><path d="M3833,1424H3942M3833,1449H3942"/><text class="m" x="3887.5" y="1416">QPushButton *</text></g>
<g id="QSpinBoxPtr" class="g"><rect x="3966" y="1399" width="91" height="76"/><path d="M3966,1424H4057M3966,1449H4057"/><text class="m" x="4011.5" y="1416">QSpinBox *</text></g>
<g id="QCheckBoxPtr" class="g"><rect x="4082" y="1399" width="103" height="76"/><path d="M4082,1424H4185M4082,1449H4185"/><text class="m" x="4133.5" y="1416">QCheckBox *</text></g>
<g id="QPlainTextEditPtr" class="g"><rect x="4239" y="1399" width="119" height="76"/><path d="M4239,1424H4358M4239,1449H4358"/><text class="m" x="4298.5" y="1416">QPlainTextEdit *</text></g>
<g id="QThread" class="k"><rect x="4409" y="1399" width="72" height="76"/><path d="M4409,1424H4481M4409,1449H4481"/><text class="m" x="4445" y="1416">QThread</text></g>
<g id="Ui_RebindWidget" class="k"><rect x="3177" y="1791" width="151" height="237"/><path d="M3177,1815H3328M3177,1988H3328"/><text class="m" x="3252.5" y="1807.5">Ui_RebindWidget</text>
<text x="3187" y="1832"><tspan x="3187" dy="0">+ keyTab</tspan><tspan x="3187" dy="14.7">+ typingBox</tspan><tspan x="3187" dy="14.7">+ verticalSpacer_3</tspan><tspan x="3187" dy="14.7">+ mediaButton</tspan><tspan x="3187" dy="14.7">+ horizontalSpacer_9</tspan><tspan x="3187" dy="14.7">+ horizontalSpacer_4</tspan><tspan x="3187" dy="14.7">+ fnButton</tspan><tspan x="3187" dy="14.7">+ horizontalSpacer_17</tspan><tspan x="3187" dy="14.7">+ verticalSpacer_2</tspan><tspan x="3187" dy="14.7">+ horizontalSpacer_18</tspan><tspan x="3187" dy="14.7">and 29 more...</tspan></text>
<text x="3187" y="2004"><tspan x="3187" dy="0">+ setupUi()</tspan><tspan x="3187" dy="14.7">+ retranslateUi()</tspan></text></g>
<g id="MacroReaderThread" class="k"><rect x="4500" y="1857" width="160" height="104"/><path d="M4500,1881H4660M4500,1906H4660"/><text class="m" x="4580" y="1873.5">MacroReaderThread</text>
<text x="4510" y="1922"><tspan x="4510" dy="0">+ MacroReaderThread()</tspan><tspan x="4510" dy="14.7">+ run()</tspan><tspan x="4510" dy="14.7">- readMacro()</tspan></text></g>
<g id="MacroReader" class="k"><rect x="4366" y="2153" width="158" height="120"/><path d="M4366,2178H4524M4366,2204H4524"/><text class="m" x="4445" y="2170">MacroReader</text>
<text x="4376" y="2219.5"><tspan x="4376" dy="0">+ MacroReader()</tspan><tspan x="4376" dy="14.7">+ MacroReader()</tspan><tspan x="4376" dy="14.7">+ ~MacroReader()</tspan><tspan x="4376" dy="14.7">+ startWorkInAThread()</tspan></text></g>
<g id="QWidget" class="k"><rect x="2630" y="2175" width="70" height="77"/><path d="M2630,2201H2700M2630,2226H2700"/><text class="m" x="2665" y="2192">QWidget</text></g>
<g id="Ui_RebindWidget_ns" class="k"><rect x="2741" y="2175" width="121" height="77"/><path d="M2741,2201H2862M2741,2226H2862"/><text class="m" x="2801.5" y="2192">Ui::RebindWidget</text></g>
<g id="RebindWidget" class="f"><rect x="2550" y="2529" width="229" height="370"/><path d="M2550,2556H2779M2550,2581H2779"/><text class="m" x="2664.5" y="2546.5">RebindWidget</text>
<text x="2561" y="2596.5"><tspan x="2561" dy="0">+ RebindWidget()</tspan><tspan x="2561" dy="14.7">+ ~RebindWidget()</tspan><tspan x="2561" dy="14.7">+ setBind()</tspan><tspan x="2561" dy="14.7">+ setSelection()</tspan><tspan x="2561" dy="14.7">- setBox()</tspan><tspan x="2561" dy="14.7">- convertMacroBox()</tspan><tspan x="2561" dy="14.7">- helpStatus()</tspan><tspan x="2561" dy="14.7">- setCorrectRadioButton()</tspan><tspan x="2561" dy="14.7">- applyChanges()</tspan><tspan x="2561" dy="14.7">- on_applyButton_clicked()</tspan><tspan x="2561" dy="14.7">- on_cancelButton_clicked()</tspan><tspan x="2561" dy="14.7">- on_resetButton_clicked()</tspan><tspan x="2561" dy="14.7">- on_unbindButton_clicked()</tspan><tspan x="2561" dy="14.7">- on_typingBox_currentIndex</tspan><tspan x="2561" dy="14.7">Changed()</tspan><tspan x="2561" dy="14.7">- on_modBox_currentIndexChanged()</tspan><tspan x="2561" dy="14.7">- on_fnBox_currentIndexChanged()</tspan><tspan x="2561" dy="14.7">- on_numBox_currentIndexChanged()</tspan><tspan x="2561" dy="14.7">- on_mediaBox_currentIndex</tspan><tspan x="2561" dy="14.7">Changed()</tspan><tspan x="2561" dy="14.7">and 34 more...</tspan></text></g>
</g>
</svg>
